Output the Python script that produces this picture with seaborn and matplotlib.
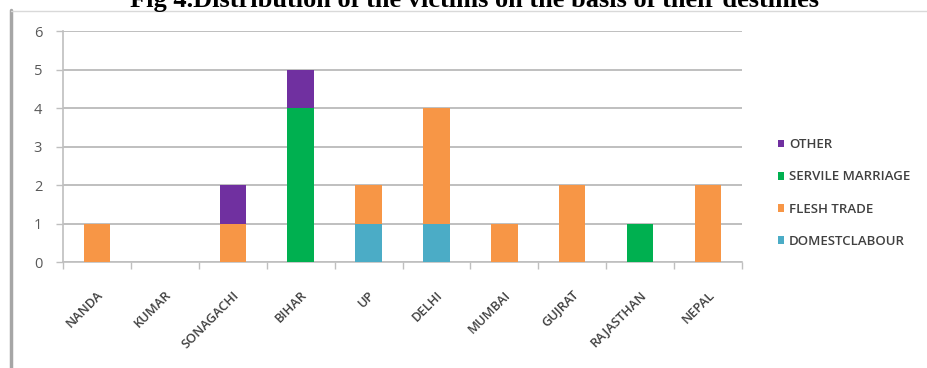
import matplotlib
matplotlib.use("Agg")
import matplotlib.pyplot as plt
from matplotlib.lines import Line2D
from matplotlib.patches import Patch
import seaborn as sns
import pandas as pd

# Destinations and victim counts by purpose
destinations = ["NANDA", "KUMAR", "SONAGACHI", "BIHAR", "UP",
                "DELHI", "MUMBAI", "GUJRAT", "RAJASTHAN", "NEPAL"]
domestic_labour = [0, 0, 0, 0, 1, 1, 0, 0, 0, 0]
flesh_trade     = [1, 0, 1, 0, 1, 3, 1, 2, 0, 2]
servile_marriage = [0, 0, 0, 4, 0, 0, 0, 0, 1, 0]
other           = [0, 0, 1, 1, 0, 0, 0, 0, 0, 0]

series_names = ["DOMESTCLABOUR", "FLESH TRADE", "SERVILE MARRIAGE", "OTHER"]
series_values = [domestic_labour, flesh_trade, servile_marriage, other]
series_colors = ["#4BACC6", "#F79646", "#00B050", "#7030A0"]
y_ticks = [0, 1, 2, 3, 4, 5, 6]

title = "Fig 4.Distribution of the victims on the basis of their destinies"

sns.set_theme(style="white")
plt.rcParams["font.family"] = ["Open Sans", "DejaVu Sans"]

W, H = 928, 368
fig = plt.figure(figsize=(W / 100, H / 100), dpi=100)
fig.patch.set_facecolor("white")

def px(x0, y0, x1, y1):
    return [x0 / W, 1 - y1 / H, (x1 - x0) / W, (y1 - y0) / H]

ax = fig.add_axes(px(63, 31, 742, 262))

df = pd.DataFrame({"destination": destinations})
bottom = [0] * len(destinations)
for name, vals, col in zip(series_names, series_values, series_colors):
    df[name] = vals
    sns.barplot(data=df, x="destination", y=name, bottom=bottom, color=col,
                width=0.39, linewidth=0, saturation=1, ax=ax, zorder=3)
    bottom = [b + v for b, v in zip(bottom, vals)]

ax.set_ylim(0, 6)
ax.set_xlim(-0.5, len(destinations) - 0.5)
ax.set_yticks(y_ticks)
ax.set_xlabel("")
ax.set_ylabel("")
ax.yaxis.grid(True, color="#BFBFBF", linewidth=1.4, zorder=0)
ax.set_axisbelow(True)
for s in ["top", "right"]:
    ax.spines[s].set_visible(False)
ax.spines["left"].set_color("#BFBFBF")
ax.spines["bottom"].set_color("#BFBFBF")
ax.spines["left"].set_linewidth(1.2)
ax.spines["bottom"].set_linewidth(1.2)

ax.tick_params(axis="y", which="major", left=True, length=5, width=1,
               color="#BFBFBF", labelsize=10.5, labelcolor="#595959", pad=10)
ax.set_xticks(range(len(destinations)))
ax.set_xticklabels(destinations, rotation=45, ha="right",
                   rotation_mode="anchor", fontsize=9.3, color="#404040",
                   fontweight="semibold")
ax.tick_params(axis="x", which="major", bottom=False, pad=13)
ax.set_xticks([i - 0.5 for i in range(len(destinations) + 1)], minor=True)
ax.tick_params(axis="x", which="minor", bottom=True, length=5, width=1,
               color="#BFBFBF")

handles = [Patch(facecolor=c, edgecolor="none") for c in series_colors][::-1]
labels = series_names[::-1]
leg = fig.legend(handles, labels, loc="center left",
                 bbox_to_anchor=(766 / W, 1 - 193 / H), frameon=False,
                 handlelength=0.5, handleheight=0.5, handletextpad=0.35,
                 labelspacing=1.45, prop={"size": 9.5, "weight": "semibold"})
for t in leg.get_texts():
    t.set_color("#404040")

# outer chart frame
fig.add_artist(Line2D([11 / W, 11 / W], [0, 1 - 10 / H], color="#A6A6A6",
                      linewidth=2.5, transform=fig.transFigure))
fig.add_artist(Line2D([11 / W, 1], [1 - 10.5 / H, 1 - 10.5 / H],
                      color="#D9D9D9", linewidth=1,
                      transform=fig.transFigure))

fig.text(475 / W, 1 - 7 / H, title, ha="center", va="baseline",
         fontsize=19, fontweight="bold", family="Liberation Serif",
         color="black")

fig.savefig("out.png", dpi=100)
